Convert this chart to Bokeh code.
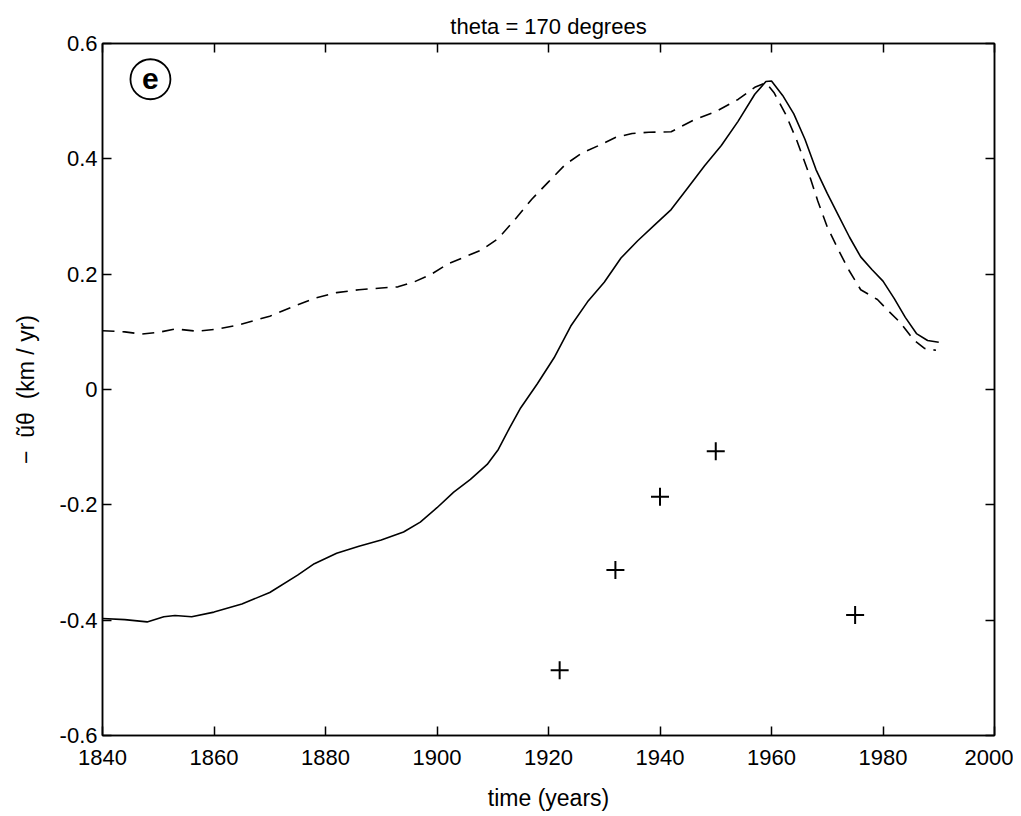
from bokeh.plotting import figure
from bokeh.models import (FixedTicker, LinearAxis, Range1d)
from bokeh.core.properties import value
from bokeh.embed import file_html
from bokeh.resources import INLINE

# ---------------- data ----------------
solid_years = [1840, 1844, 1848, 1851, 1853, 1856, 1860, 1865, 1870, 1875, 1878,
               1882, 1886, 1890, 1894, 1897, 1900, 1903, 1906, 1909, 1911, 1913,
               1915, 1918, 1921, 1924, 1927, 1930, 1933, 1936, 1939, 1942, 1945,
               1948, 1951, 1954, 1957, 1959, 1960, 1962, 1964, 1966, 1968, 1970,
               1972, 1974, 1976, 1978, 1980, 1982, 1984, 1986, 1988, 1990]
solid_vals = [-0.397, -0.399, -0.403, -0.394, -0.392, -0.394, -0.386, -0.372, -0.352,
              -0.322, -0.302, -0.284, -0.272, -0.261, -0.247, -0.230, -0.205, -0.178,
              -0.156, -0.130, -0.104, -0.067, -0.032, 0.010, 0.055, 0.110, 0.152,
              0.186, 0.228, 0.258, 0.285, 0.312, 0.350, 0.388, 0.423, 0.465, 0.512,
              0.534, 0.535, 0.510, 0.478, 0.434, 0.381, 0.340, 0.302, 0.264, 0.230,
              0.208, 0.188, 0.158, 0.125, 0.097, 0.085, 0.082]

dashed_years = [1840, 1844, 1847, 1850, 1853, 1857, 1860, 1864, 1867, 1870, 1874,
                1878, 1882, 1886, 1890, 1893, 1896, 1899, 1902, 1905, 1908, 1911,
                1914, 1917, 1920, 1923, 1926, 1929, 1932, 1935, 1938, 1942, 1946,
                1950, 1954, 1957, 1959, 1960.5, 1962.5, 1964.5, 1966.5, 1968.3,
                1970, 1972, 1974, 1976, 1979, 1981, 1983, 1985.5, 1987.5, 1989.5]
dashed_vals = [0.102, 0.100, 0.096, 0.099, 0.105, 0.101, 0.104, 0.111, 0.119, 0.127,
               0.143, 0.158, 0.168, 0.173, 0.176, 0.178, 0.187, 0.200, 0.218, 0.230,
               0.242, 0.262, 0.295, 0.330, 0.360, 0.390, 0.410, 0.423, 0.437, 0.444,
               0.446, 0.447, 0.467, 0.482, 0.503, 0.524, 0.532, 0.514, 0.478, 0.433,
               0.380, 0.327, 0.282, 0.242, 0.205, 0.173, 0.156, 0.136, 0.117, 0.086,
               0.071, 0.068]

obs_years = [1922, 1932, 1940, 1950, 1975]
obs_vals = [-0.487, -0.313, -0.186, -0.107, -0.391]

x_ticks = [1840, 1860, 1880, 1900, 1920, 1940, 1960, 1980, 2000]
y_ticks = [-0.6, -0.4, -0.2, 0, 0.2, 0.4, 0.6]
y_tick_labels = ["-0.6", "-0.4", "-0.2", "0", "0.2", "0.4", "0.6"]

title_text = "theta = 170 degrees"
x_label = "time (years)"
y_label = "\u2212\u00a0\u00a0\u0169\u03b8\u00a0\u00a0(km / yr)"
panel_letter = "e"
panel_x, panel_y = 1848.6, 0.538

FONT = "Liberation Sans"

# ---------------- figure ----------------
p = figure(width=1013, height=813, output_backend="svg", toolbar_location=None,
           x_range=Range1d(1840, 2000), y_range=Range1d(-0.6, 0.6),
           min_border_left=102, min_border_right=19, min_border_top=43,
           min_border_bottom=77, background_fill_color="white",
           border_fill_color="white")
p.grid.visible = False
p.outline_line_color = "black"
p.outline_line_width = 1.5

p.title.text = title_text
p.title.align = "center"
p.title.text_font = FONT
p.title.text_font_size = "22px"
p.title.text_font_style = "normal"
p.title.text_color = "black"

def style_axis(ax, labels=True):
    ax.major_tick_in = 9
    ax.major_tick_out = 0
    ax.minor_tick_in = 0
    ax.minor_tick_out = 0
    ax.axis_line_color = "black"
    ax.axis_line_width = 1.5
    ax.major_tick_line_color = "black"
    ax.major_tick_line_width = 1.5
    ax.major_label_text_font = FONT
    ax.major_label_text_color = "black"
    ax.axis_label_text_font = FONT
    ax.axis_label_text_font_style = "normal"
    ax.axis_label_text_color = "black"
    if labels:
        ax.major_label_text_font_size = "22px"
        ax.axis_label_text_font_size = "23px"
    else:
        ax.major_label_text_font_size = "0px"
        ax.major_label_text_color = None
        ax.major_label_standoff = 0

xa = p.xaxis[0]
ya = p.yaxis[0]
xa.ticker = FixedTicker(ticks=x_ticks)
ya.ticker = FixedTicker(ticks=y_ticks)
ya.major_label_overrides = {t: l for t, l in zip(y_ticks, y_tick_labels)}
style_axis(xa)
style_axis(ya)
xa.axis_label = x_label
ya.axis_label = y_label
xa.major_label_standoff = 14
xa.axis_label_standoff = 17
ya.major_label_standoff = 5
ya.axis_label_standoff = 18

top = LinearAxis(ticker=FixedTicker(ticks=x_ticks))
right = LinearAxis(ticker=FixedTicker(ticks=y_ticks))
style_axis(top, labels=False)
style_axis(right, labels=False)
top.major_label_standoff = 7
p.add_layout(top, "above")
p.add_layout(right, "right")

# ---------------- glyphs ----------------
p.line(x=solid_years, y=solid_vals, line_color="black", line_width=1.6)
p.line(x=dashed_years, y=dashed_vals, line_color="black", line_width=1.6,
       line_dash="12 8")
p.scatter(x=obs_years, y=obs_vals, marker="cross", size=18, line_color="black",
          line_width=2)

# panel letter
p.scatter(x=[panel_x], y=[panel_y], marker="circle", size=40, fill_color=None,
          line_color="black", line_width=1.8)
p.text(x=[panel_x], y=[panel_y], text=[panel_letter], text_font=value(FONT),
       text_font_size="30px", text_font_style="bold", text_align="center",
       text_baseline="middle", text_color="black")

open("out.html", "w").write(file_html(p, INLINE))
